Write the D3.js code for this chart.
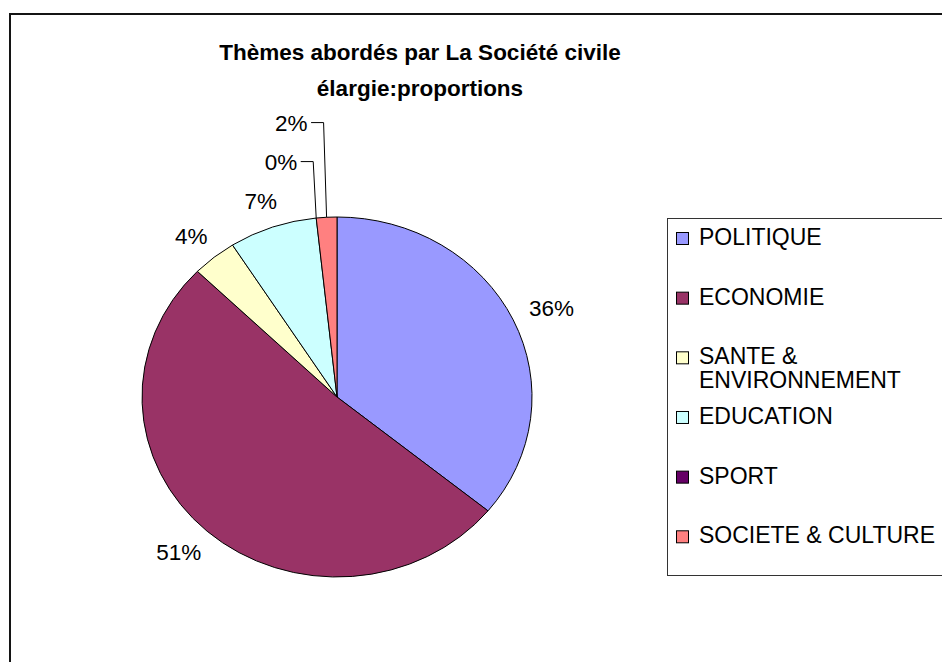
<!DOCTYPE html>
<html>
<head>
<meta charset="utf-8">
<script src="https://cdn.jsdelivr.net/npm/d3@7"></script>
<style>
  html, body { margin: 0; padding: 0; background: #fff; }
  svg { display: block; }
  text { font-family: "Liberation Sans", Arial, sans-serif; fill: #000; }
</style>
</head>
<body>
<svg id="chart" width="942" height="662"></svg>
<script>
// ---- data ----
const categories = ["POLITIQUE", "ECONOMIE", "SANTE & ENVIRONNEMENT", "EDUCATION", "SPORT", "SOCIETE & CULTURE"];
const values = [35.9, 51.4, 3.7, 7.3, 0.0, 1.7];
const colors = ["#9999FF", "#993366", "#FFFFCC", "#CCFFFF", "#660066", "#FF8080"];
const titleLines = ["Thèmes abordés par La Société civile", "élargie:proportions"];

// ---- layout ----
const W = 942, H = 662;
const cx = 337, cy = 397, rx = 195, ry = 180;
const labelFont = 22.5, legendFont = 23, titleFont = 22.5;

const svg = d3.select("#chart");

// outer frame (extends beyond the window on right/bottom)
svg.append("rect")
  .attr("x", 10).attr("y", 14)
  .attr("width", W + 40).attr("height", H + 40)
  .attr("fill", "#fff").attr("stroke", "#141414").attr("stroke-width", 2);

// title
const title = svg.append("text")
  .attr("text-anchor", "middle")
  .attr("font-size", titleFont).attr("font-weight", "bold");
titleLines.forEach((t, i) => {
  title.append("tspan").attr("x", 420).attr("y", 60 + i * 36).text(t);
});

// pie
const data = categories.map((c, i) => ({ cat: c, value: values[i], color: colors[i] }));
const total = d3.sum(values);
const arcs = d3.pie().sort(null).value(d => d.value).startAngle(0).endAngle(2 * Math.PI)(data);
const arcGen = d3.arc().innerRadius(0).outerRadius(ry);

const pg = svg.append("g")
  .attr("transform", `translate(${cx},${cy}) scale(${rx / ry},1)`);
pg.selectAll("path").data(arcs.filter(a => a.data.value > 0)).enter().append("path")
  .attr("d", arcGen)
  .attr("fill", d => d.data.color)
  .attr("stroke", "#000")
  .attr("stroke-width", 1)
  .attr("vector-effect", "non-scaling-stroke");

// data labels
const capH = labelFont * 0.716;
const labelG = svg.append("g").attr("font-size", labelFont);
const dOff = 20;
let prev = null;
arcs.forEach(a => {
  const mid = (a.startAngle + a.endAngle) / 2;
  const s = Math.sin(mid), c = Math.cos(mid);
  const txt = Math.round(a.data.value / total * 100) + "%";
  const t = labelG.append("text").text(txt);
  const w = t.node().getComputedTextLength();
  const arcX = cx + s * rx, arcY = cy - c * ry;
  let xc, yc;
  const crowded = prev && Math.abs(mid - prev.mid) < (16 * Math.PI / 180);
  if (crowded) {
    // stack above the previous label with a leader line
    yc = prev.yc - 39;
    const elbowX = arcX - 3;
    const xEnd = elbowX - 16;
    xc = xEnd - w / 2;
    svg.append("polyline")
      .attr("points", [[xEnd + 3.5, yc], [elbowX, yc], [arcX, arcY]].map(p => p.join(",")).join(" "))
      .attr("fill", "none").attr("stroke", "#000").attr("stroke-width", 1);
  } else {
    xc = cx + s * (rx + dOff + w / 2);
    yc = cy - c * (ry + dOff + capH / 2);
  }
  t.attr("x", xc).attr("y", yc + capH / 2).attr("text-anchor", "middle");
  prev = { mid, yc };
});

// legend
const lgX = 667.5, lgY = 218.5;
svg.append("rect")
  .attr("x", lgX).attr("y", lgY)
  .attr("width", 320).attr("height", 357)
  .attr("fill", "#fff").attr("stroke", "#333").attr("stroke-width", 1);

const ly = d3.scalePoint().domain(categories).range([245, 543.3]);
const lg = svg.append("g").attr("font-size", legendFont);
const maxW = 255;
data.forEach(d => {
  const by = ly(d.cat);
  lg.append("rect")
    .attr("x", 676.5).attr("y", by - 12.5)
    .attr("width", 12).attr("height", 12)
    .attr("fill", d.color).attr("stroke", "#000").attr("stroke-width", 1);
  const t = lg.append("text").attr("x", 699).attr("y", by);
  // word wrap
  const words = d.cat.split(" ");
  let line = [], lineNo = 0;
  let ts = t.append("tspan").attr("x", 699).attr("y", by);
  words.forEach(wd => {
    line.push(wd);
    ts.text(line.join(" "));
    if (ts.node().getComputedTextLength() > maxW && line.length > 1) {
      line.pop();
      ts.text(line.join(" "));
      line = [wd];
      lineNo++;
      ts = t.append("tspan").attr("x", 699).attr("y", by + lineNo * 24).text(wd);
    }
  });
});
</script>
</body>
</html>
